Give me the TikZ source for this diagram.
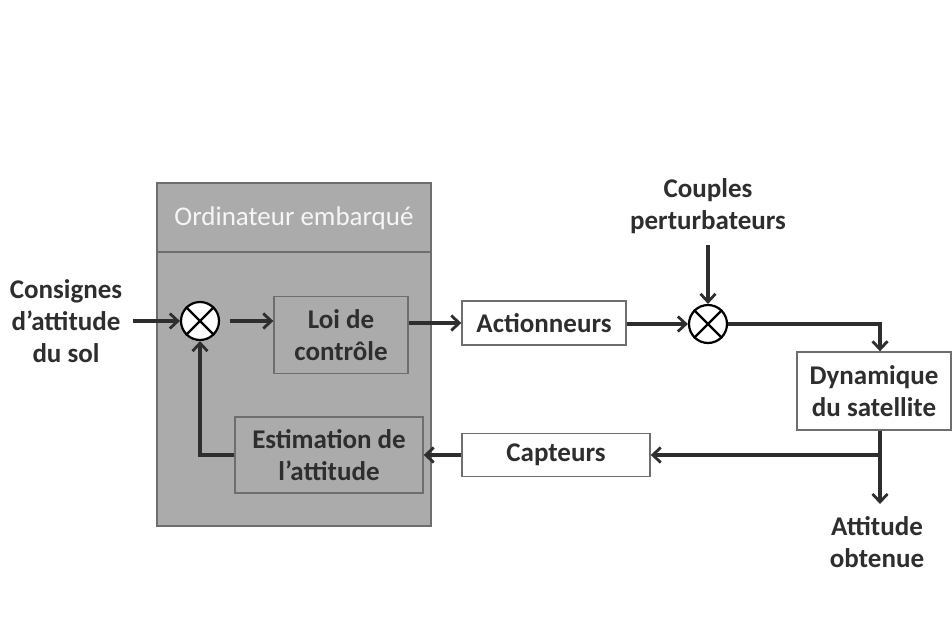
\documentclass[tikz,border=0pt]{standalone}
\usepackage{fontspec}
\setmainfont{Carlito}
\usetikzlibrary{arrows.meta}
\definecolor{panel}{HTML}{ABABAB}
\definecolor{edge}{HTML}{6E6E6E}
\definecolor{ink}{HTML}{2E2E2E}
\begin{document}
\begin{tikzpicture}[x=1pt,y=-1pt,
  lbl/.style={font=\fontsize{27}{32}\selectfont\bfseries, text=ink, align=center, inner sep=0pt},
  blk/.style={lbl, draw=edge, line width=1.4pt},
  sumj/.style={circle, draw=black, line width=2.2pt, fill=white, minimum size=38pt, inner sep=0pt},
  arr/.style={draw=ink, line width=3.2pt, -{Straight Barb[length=8pt,width=15pt,line width=2.8pt]}},
  ln/.style={draw=ink, line width=3.2pt}]
\useasboundingbox (0,0) rectangle (952,623);
% panel
\fill[panel] (157,183) rectangle (431,526);
\draw[edge, line width=1.8pt] (157,183) rectangle (431,526);
\draw[edge, line width=1.8pt] (157,252) -- (431,252);
\node[font=\fontsize{27}{30}\selectfont, text=white!93!gray, inner sep=0pt] (title) at (294,218) {Ordinateur embarqué};
% blocks
\node[blk, fill=panel, minimum width=134pt, minimum height=77pt] (loi) at (341,335) {Loi de\\contrôle};
\node[blk, fill=panel, minimum width=188pt, minimum height=76pt] (est) at (329,455) {Estimation de\\l’attitude};
\node[blk, fill=white, minimum width=164pt, minimum height=44pt] (act) at (544,323) {Actionneurs};
\node[blk, fill=white, minimum width=188pt, minimum height=43pt] (capt) at (556,455) {Capteurs};
\node[blk, fill=white, minimum width=154pt, minimum height=78pt] (dyn) at (874,391) {Dynamique\\du satellite};
% summing junctions
\node[sumj] (s1) at (200,321) {};
\draw[black, line width=2.2pt] (s1.45) -- (s1.225) (s1.135) -- (s1.315);
\node[sumj] (s2) at (708,324) {};
\draw[black, line width=2.2pt] (s2.45) -- (s2.225) (s2.135) -- (s2.315);
% free labels
\node[lbl] (cons) at (66,321) {Consignes\\d’attitude\\du sol};
\node[lbl] (coup) at (708,206) {Couples\\perturbateurs};
\node[lbl] (att) at (877,542) {Attitude\\obtenue};
% helper coordinates
\coordinate (vx) at (880,0);
\coordinate (cstart) at (133,321);
\coordinate (ptop) at (708,245);
\coordinate (aend) at (880,504);
% connectors
\draw[arr] (cstart) -- (s1.west);
\draw[arr] ([xshift=10pt]s1.east) -- (s1 -| loi.west);
\draw[arr] (loi.east |- act) -- (act.west);
\draw[arr] (act.east |- s2) -- (s2.west);
\draw[arr] (ptop) -- (s2.north);
\draw[arr] (s2.east) -| (vx |- dyn.north);
\coordinate (br) at (vx |- capt.east);
\draw[arr] (vx |- dyn.south) -- (aend);
\draw[arr] (br) -- (capt.east);
\draw[arr] (capt.west) -- (est.east);
\draw[arr] (est.west) -| (s1.south);
\end{tikzpicture}
\end{document}
